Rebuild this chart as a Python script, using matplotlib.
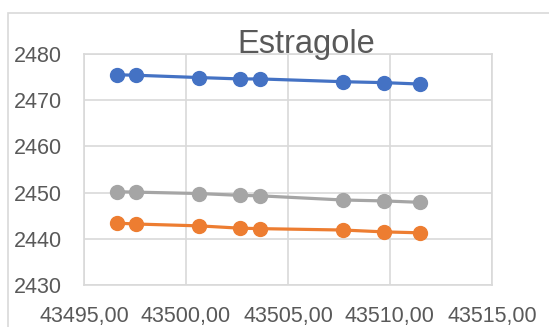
import matplotlib.pyplot as plt
from matplotlib.patches import Rectangle

# Datos (fechas como número de serie de Excel)
fechas = [43496.6, 43497.55, 43500.65, 43502.65, 43503.65, 43507.7, 43509.7, 43511.45]
serie_azul = [2475.5, 2475.4, 2474.9, 2474.6, 2474.6, 2474.0, 2473.8, 2473.5]
serie_gris = [2450.2, 2450.1, 2449.8, 2449.4, 2449.3, 2448.4, 2448.2, 2447.9]
serie_naranja = [2443.4, 2443.2, 2442.8, 2442.3, 2442.2, 2441.9, 2441.5, 2441.3]

x_ticks = [43495, 43500, 43505, 43510, 43515]
y_ticks = [2430, 2440, 2450, 2460, 2470, 2480]
titulo = 'Estragole'

plt.rcParams['font.family'] = ['Liberation Sans', 'DejaVu Sans']

fig = plt.figure(figsize=(5.49, 3.27), dpi=100)
ax = fig.add_axes([0.153, 0.1284, 0.743, 0.7065])

# Marco del área del gráfico
fig.patches.append(Rectangle((8 / 549, -0.1), 1.2, (327 - 13) / 327 + 0.1,
                             transform=fig.transFigure, fill=False,
                             edgecolor='#d9d9d9', linewidth=1.2))

for datos, color in [(serie_azul, '#4472C4'), (serie_gris, '#A5A5A5'), (serie_naranja, '#ED7D31')]:
    ax.plot(fechas, datos, color=color, linewidth=2.3, marker='o', markersize=10,
            solid_capstyle='round', zorder=3)

ax.set_xlim(x_ticks[0], x_ticks[-1])
ax.set_ylim(y_ticks[0], y_ticks[-1])
ax.set_xticks(x_ticks)
ax.set_yticks(y_ticks)
ax.set_xticklabels([f'{v:.2f}'.replace('.', ',') for v in x_ticks])
ax.set_yticklabels([str(v) for v in y_ticks])
ax.tick_params(length=0, labelsize=15.5, labelcolor='#595959')
ax.tick_params(axis='x', pad=15)
ax.tick_params(axis='y', pad=16)
ax.grid(True, color='#d9d9d9', linewidth=1.2)
for s in ax.spines.values():
    s.set_color('#d9d9d9')
    s.set_linewidth(1.2)

fig.text(306 / 549, (327 - 53) / 327, titulo, ha='center', va='baseline',
         fontsize=23.5, color='#595959')

fig.savefig('out.png', dpi=100)
